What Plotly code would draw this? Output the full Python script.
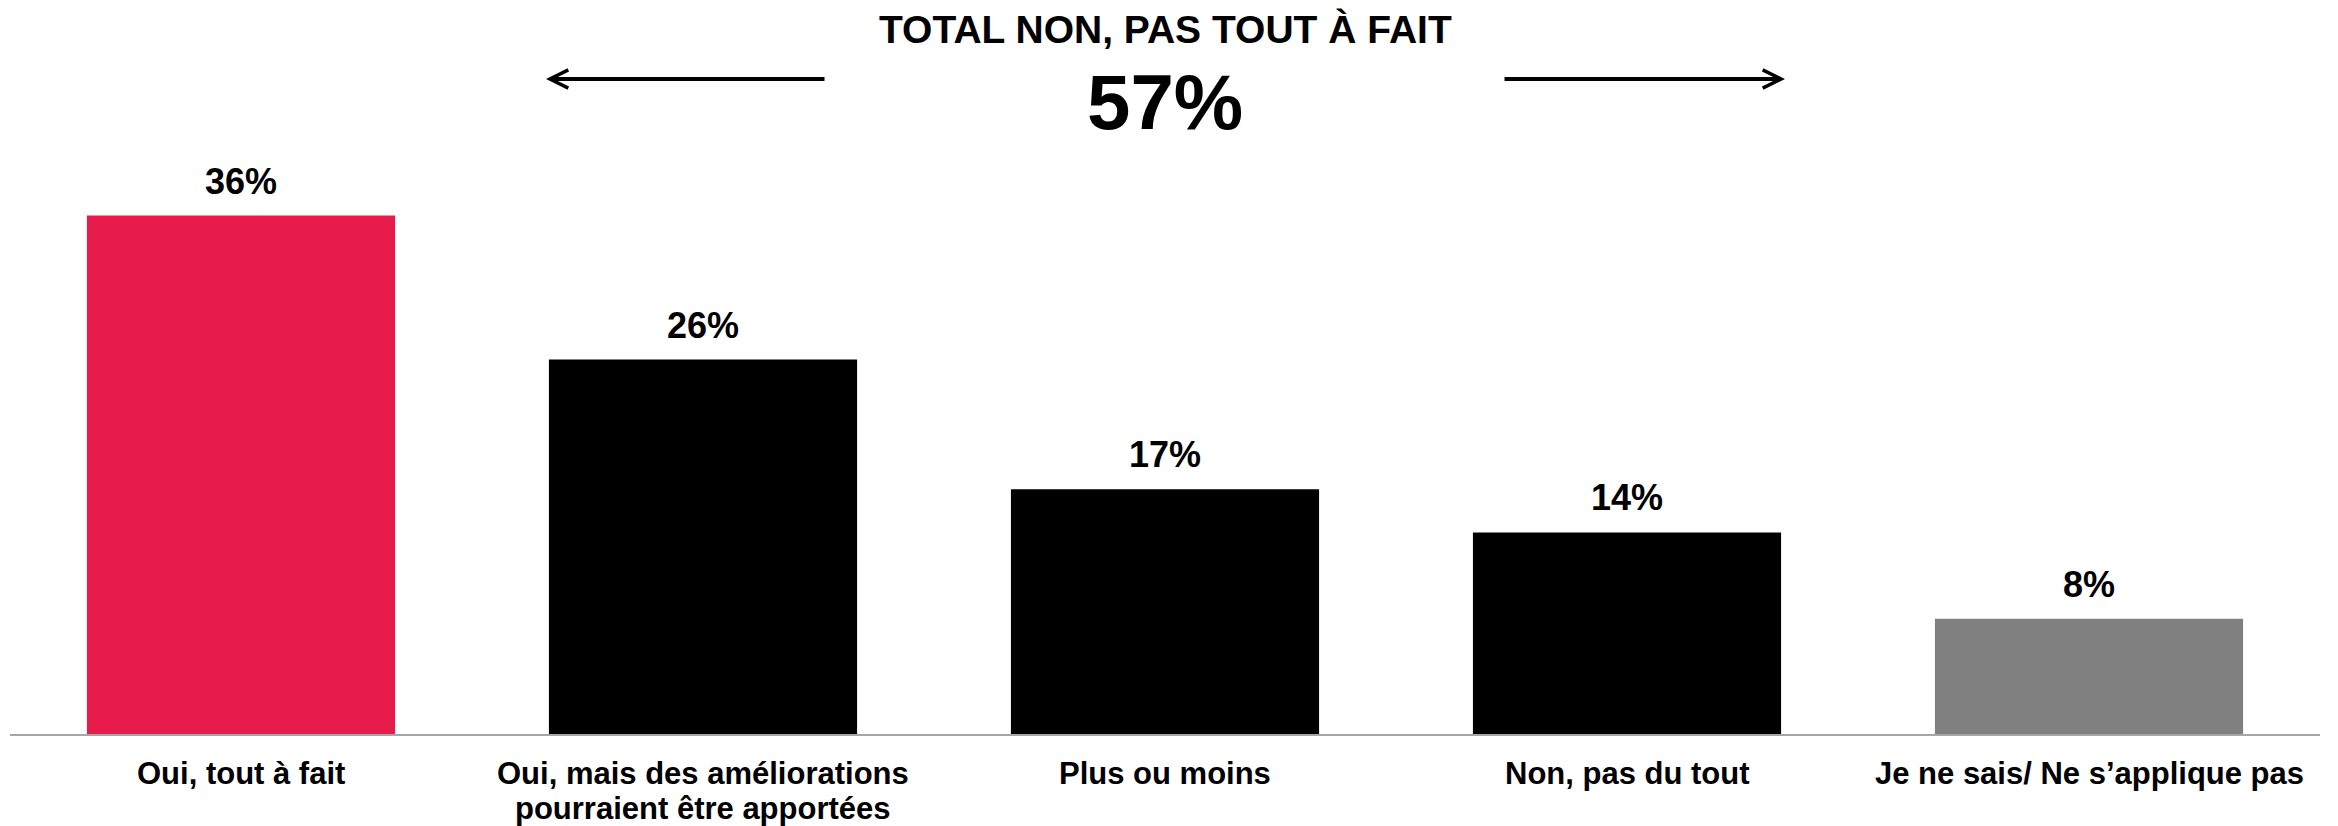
import plotly.graph_objects as go

# Survey responses and their shares (%)
categories = [
    "Oui, tout à fait",
    "Oui, mais des améliorations<br>pourraient être apportées",
    "Plus ou moins",
    "Non, pas du tout",
    "Je ne sais/ Ne s’applique pas",
]
values = [36, 26, 17, 14, 8]
bar_colors = ["#E81C4B", "#000000", "#000000", "#000000", "#808080"]

headline_label = "TOTAL NON, PAS TOUT À FAIT"
headline_value = "57%"

FONT = "Liberation Sans, Arial, sans-serif"
W, H = 2338, 826
M_L, M_R, M_T, M_B = 10, 18, 158, 92

fig = go.Figure(
    go.Bar(
        x=categories,
        y=values,
        marker=dict(color=bar_colors, line=dict(width=0)),
        hoverinfo="skip",
    )
)

# Percentage labels above each bar
annotations = [
    dict(
        x=c, y=v, xref="x", yref="y",
        text=f"{v}%", showarrow=False,
        yanchor="bottom", yshift=12,
        font=dict(family=FONT, size=36, color="#000000", weight="bold"),
    )
    for c, v in zip(categories, values)
]

# Category labels under the axis, one annotation per text line
# so the line spacing stays compact
LABEL_FONT = dict(family=FONT, size=31, color="#000000", weight="bold")
for c in categories:
    for i, line in enumerate(c.split("<br>")):
        annotations.append(
            dict(
                x=c, y=0, xref="x", yref="paper",
                text=line, showarrow=False,
                xanchor="center", yanchor="middle",
                yshift=-(39 + 35 * i),
                font=LABEL_FONT,
            )
        )

# Headline block
annotations += [
    dict(
        x=0.5, y=1.0, xref="paper", yref="paper",
        text=headline_label, showarrow=False,
        xanchor="center", yanchor="middle",
        yshift=(H - M_B - 29) - (H - M_B - M_T),
        font=dict(family=FONT, size=39, color="#000000", weight="bold"),
    ),
    dict(
        x=0.5, y=1.0, xref="paper", yref="paper",
        text=headline_value, showarrow=False,
        xanchor="center", yanchor="middle",
        yshift=(H - M_B - 102) - (H - M_B - M_T),
        font=dict(family=FONT, size=78, color="#000000", weight="bold"),
    ),
]

plot_w = W - M_L - M_R
plot_h = H - M_T - M_B
arrow_y = (H - M_B - 79) / plot_h
for head_px, tail_off in [(546, 280), (1785, -282)]:
    annotations.append(
        dict(
            x=(head_px - M_L) / plot_w, y=arrow_y, xref="paper", yref="paper",
            ax=tail_off, ay=0, axref="pixel", ayref="pixel",
            text="", showarrow=True,
            arrowhead=5, arrowwidth=4, arrowsize=0.9,
            arrowcolor="#000000", standoff=0, startstandoff=0,
        )
    )

fig.update_layout(
    width=W, height=H,
    margin=dict(l=M_L, r=M_R, t=M_T, b=M_B, pad=0, autoexpand=False),
    paper_bgcolor="#FFFFFF", plot_bgcolor="#FFFFFF",
    bargap=0.333,
    showlegend=False,
    annotations=annotations,
    xaxis=dict(
        type="category",
        range=[-0.5, 4.5],
        automargin=False,
        showline=True, linecolor="#A6A6A6", linewidth=2,
        showgrid=False, zeroline=False,
        ticks="", showticklabels=False,
        fixedrange=True,
    ),
    yaxis=dict(
        range=[0, 40],
        automargin=False,
        visible=False, showgrid=False, zeroline=False,
        fixedrange=True,
    ),
)

fig.write_html("out.html", config={"displayModeBar": False})
